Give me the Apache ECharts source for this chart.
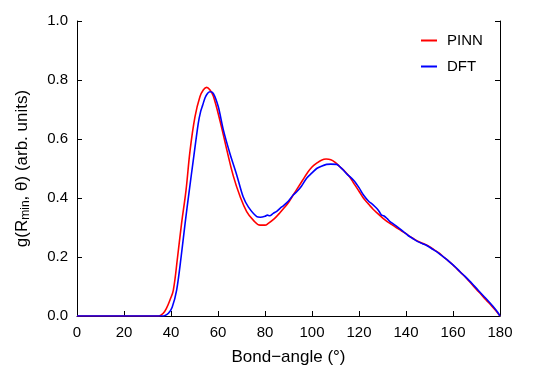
<!DOCTYPE html>
<html><head><meta charset="utf-8">
<script src="https://cdn.jsdelivr.net/npm/echarts@6/dist/echarts.min.js"></script>
<style>html,body{margin:0;padding:0;background:#fff}#c{width:533px;height:373px}</style>
</head><body><div id="c"></div>
<script>
const xTicks = [0,20,40,60,80,100,120,140,160,180];
const yTicks = [0.0,0.2,0.4,0.6,0.8,1.0];
const pinnAngle = [0,10,20,30,34,35.5,36.7,38,39.6,41,42.8,44.5,46.4,48.1,50.2,52.3,53.8,55.2,56.6,58,60.9,63.7,66.5,69.4,72.2,75,77.9,80,81.4,84,86,88,90,92,94,96,98,100,102,104,106,108,110,112,114,116,118,120,122,124,126,128,130,132,134,136,138,140,142,144,146,148,150,152,154,156,158,160,162,164,166,168,170,172,174,176,178,180];
const pinnG = [0,0,0,0,0,0.002,0.009,0.025,0.055,0.088,0.2,0.314,0.427,0.56,0.675,0.743,0.767,0.775,0.766,0.746,0.66,0.565,0.475,0.405,0.354,0.325,0.308,0.308,0.314,0.33,0.347,0.365,0.385,0.41,0.435,0.46,0.485,0.505,0.518,0.528,0.532,0.53,0.52,0.505,0.49,0.472,0.447,0.423,0.398,0.38,0.362,0.347,0.333,0.32,0.31,0.299,0.289,0.279,0.268,0.258,0.25,0.243,0.235,0.224,0.214,0.2,0.187,0.173,0.157,0.142,0.126,0.108,0.09,0.073,0.055,0.038,0.02,0];
const dftAngle = [0,10,20,30,36,37.5,38.9,40.5,42.4,44.3,46,47.8,49.5,51.6,52.6,53.5,54.5,55.6,56.6,58,60.1,62.3,65.1,67.9,70.7,72.9,76.5,78,80,81,82,83.5,85,86.4,88,90,92,93.5,95.5,97.7,100,102,104,106.2,108,110.5,112,113.3,115,117.6,120,121.9,124,126,127.5,128.5,129.6,130.5,132,133.2,135,137,138.9,141,143,145,147,149,151,153,155,157,159,161,163,165,167,169,171,173,175,177,179,180];
const dftG = [0,0,0,0,0,0.002,0.009,0.03,0.088,0.2,0.314,0.427,0.529,0.653,0.693,0.715,0.74,0.755,0.76,0.755,0.71,0.63,0.55,0.48,0.404,0.37,0.337,0.335,0.338,0.342,0.34,0.348,0.355,0.365,0.375,0.39,0.41,0.421,0.44,0.467,0.485,0.5,0.508,0.514,0.515,0.514,0.505,0.495,0.48,0.461,0.435,0.41,0.39,0.377,0.365,0.355,0.342,0.34,0.33,0.32,0.31,0.298,0.286,0.272,0.262,0.252,0.245,0.238,0.228,0.218,0.206,0.194,0.18,0.166,0.15,0.135,0.119,0.102,0.085,0.068,0.051,0.033,0.013,0];

const FONT = '"Liberation Sans", Arial, sans-serif';
const chart = echarts.init(document.getElementById('c'), null, {renderer:'canvas'});
const zip = (a,b)=>a.map((v,i)=>[v,b[i]]);
chart.setOption({
  animation:false,
  backgroundColor:'#fff',
  grid:{left:77,right:33,top:21,bottom:57},
  legend:{
    orient:'vertical', left:416, top:28, itemWidth:16, itemHeight:2, itemGap:11,
    icon:'rect',
    textStyle:{fontFamily:FONT,fontSize:15,color:'#000',padding:[0,0,0,5]},
    data:['PINN','DFT']
  },
  xAxis:{
    type:'value', min:0, max:180, interval:20,
    name:'Bond\u2212angle (\u00b0)', nameLocation:'middle', nameGap:33,
    nameTextStyle:{fontFamily:FONT,fontSize:17,color:'#000'},
    axisLine:{lineStyle:{color:'#000',width:1}},
    axisTick:{inside:true,length:5,lineStyle:{color:'#000'}},
    axisLabel:{fontFamily:FONT,fontSize:15,color:'#000',margin:9},
    splitLine:{show:false}
  },
  yAxis:[{
    type:'value', min:0, max:1, interval:0.2,
    name:'g(R{sub|min}, \u03b8) (arb. units)', nameLocation:'middle', nameGap:45,
    nameTextStyle:{fontFamily:FONT,fontSize:17,color:'#000',
      rich:{sub:{fontFamily:FONT,fontSize:12,color:'#000',verticalAlign:'bottom',padding:[8,0,0,0]}}},
    axisLine:{show:true,lineStyle:{color:'#000',width:1}},
    axisTick:{inside:true,length:5,lineStyle:{color:'#000'}},
    axisLabel:{fontFamily:FONT,fontSize:15,color:'#000',margin:9,formatter:v=>v.toFixed(1)},
    splitLine:{show:false}
  },{
    type:'value', min:0, max:1, interval:0.2, position:'right',
    axisLine:{show:true,lineStyle:{color:'#000',width:1}},
    axisTick:{show:true,inside:true,length:5,lineStyle:{color:'#000'}},
    axisLabel:{show:false}, splitLine:{show:false}
  }],
  series:[
    {name:'PINN',type:'line',data:zip(pinnAngle,pinnG),symbol:'none',smooth:0.4,
     lineStyle:{color:'#ff0000',width:1.6},itemStyle:{color:'#ff0000'}},
    {name:'DFT',type:'line',data:zip(dftAngle,dftG),symbol:'none',smooth:0.3,
     lineStyle:{color:'#0000ff',width:1.6},itemStyle:{color:'#0000ff'}}
  ]
});
</script></body></html>
